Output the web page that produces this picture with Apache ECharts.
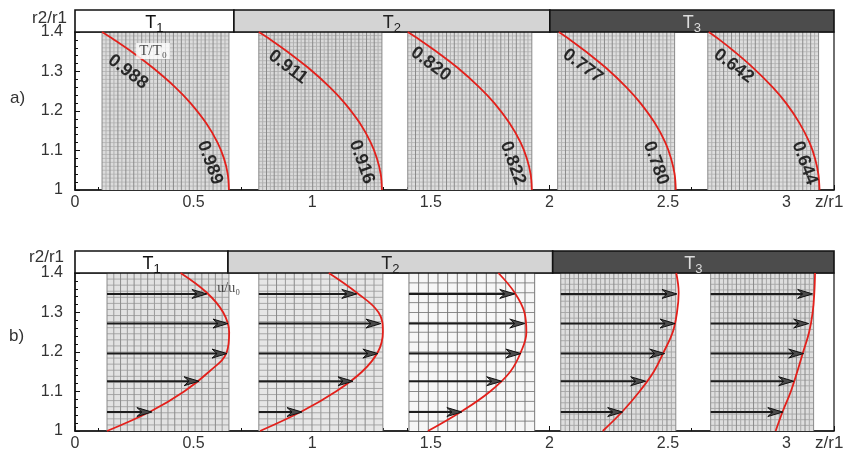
<!DOCTYPE html>
<html>
<head>
<meta charset="utf-8">
<script src="https://cdn.jsdelivr.net/npm/echarts@6/dist/echarts.min.js"></script>
<style>
  html, body { margin: 0; padding: 0; background: #fff; }
  #chart { width: 846px; height: 452px; }
</style>
</head>
<body>
<div id="chart"></div>
<script>
// ---- Data -------------------------------------------------------------
// Heated sections along the channel (header bands), edges in z/r1
const sectionNames = ['1', '2', '3'];
const sectionEdgesA = [0, 0.67, 2.002, 3.2];
const sectionEdgesB = [0, 0.645, 2.014, 3.2];

// Mesh windows [z start, z end] in z/r1
const windowsA = [[0.114, 0.649], [0.775, 1.294], [1.403, 1.926], [2.035, 2.528], [2.668, 3.135]];
const windowsB = [[0.135, 0.649], [0.775, 1.298], [1.408, 1.938], [2.048, 2.533], [2.680, 3.114]];

// a) Temperature contour: z/r1 of the line at each radial station
const rLevels   = [1.4, 1.38, 1.35, 1.31, 1.26, 1.22, 1.17, 1.12, 1.08, 1.04, 1.0];
const tempLine1 = [0.114, 0.166, 0.239, 0.327, 0.423, 0.487, 0.552, 0.601, 0.628, 0.644, 0.649];
const tempLine2 = [0.775, 0.826, 0.896, 0.982, 1.075, 1.137, 1.200, 1.247, 1.273, 1.289, 1.294];
const tempLine3 = [1.403, 1.454, 1.525, 1.612, 1.705, 1.768, 1.831, 1.879, 1.905, 1.921, 1.926];
const tempLine4 = [2.040, 2.088, 2.155, 2.237, 2.325, 2.384, 2.444, 2.489, 2.513, 2.528, 2.533];
const tempLine5 = [2.672, 2.718, 2.781, 2.858, 2.942, 2.998, 3.054, 3.097, 3.120, 3.134, 3.139];

// T/T0 values printed on each contour (outer wall, inner wall)
const tempTop    = ['0.988', '0.911', '0.820', '0.777', '0.642'];
const tempBottom = ['0.989', '0.916', '0.822', '0.780', '0.644'];

// b) Axial velocity profile: z/r1 of the profile at each radial station
const rProfile = [1.0, 1.05, 1.1, 1.15, 1.2, 1.25, 1.3, 1.35, 1.4];
const velLine1 = [0.135, 0.320, 0.460, 0.565, 0.640, 0.650, 0.625, 0.556, 0.445];
const velLine2 = [0.780, 0.957, 1.100, 1.210, 1.277, 1.298, 1.280, 1.188, 1.070];
const velLine3 = [1.488, 1.631, 1.750, 1.835, 1.880, 1.903, 1.895, 1.854, 1.785];
const velLine4 = [2.225, 2.309, 2.380, 2.440, 2.482, 2.520, 2.538, 2.545, 2.535];
const velLine5 = [2.954, 2.984, 3.018, 3.045, 3.070, 3.095, 3.110, 3.117, 3.120];

// Velocity vectors: radial stations and arrow tip positions (z/r1)
const rArrows   = [1.048, 1.126, 1.196, 1.272, 1.347];
const arrowTip1 = [0.324, 0.523, 0.641, 0.645, 0.556];
const arrowTip2 = [0.957, 1.172, 1.277, 1.290, 1.188];
const arrowTip3 = [1.631, 1.799, 1.880, 1.896, 1.854];
const arrowTip4 = [2.309, 2.406, 2.486, 2.530, 2.538];
const arrowTip5 = [2.984, 3.030, 3.072, 3.093, 3.110];

// ---- Presentation ------------------------------------------------------
const FONT = "'Liberation Sans', Arial, sans-serif";
const SERIF = "'Liberation Serif', 'Times New Roman', serif";
const RED = '#e3201b';

const tempLines = [tempLine1, tempLine2, tempLine3, tempLine4, tempLine5];
const velLines = [velLine1, velLine2, velLine3, velLine4, velLine5];
const arrowTips = [arrowTip1, arrowTip2, arrowTip3, arrowTip4, arrowTip5];

// mesh density / shading of each window
const meshA = [
  { nz: 32, nr: 40, bg: '#dcdcdc', v: '#8a8a8a', v2: '#b0b0b0', h: '#bababa' },
  { nz: 32, nr: 44, bg: '#dadada', v: '#8a8a8a', v2: '#b0b0b0', h: '#b6b6b6' },
  { nz: 32, nr: 40, bg: '#dedede', v: '#8a8a8a', v2: '#b0b0b0', h: '#bababa' },
  { nz: 30, nr: 40, bg: '#dedede', v: '#8a8a8a', v2: '#b0b0b0', h: '#bababa' },
  { nz: 28, nr: 40, bg: '#dedede', v: '#8a8a8a', v2: '#b0b0b0', h: '#bababa' }
];
const meshB = [
  { nz: 18, nr: 26, bg: '#e2e2e2', v: '#8a8a8a', v2: '#9a9a9a', h: '#a8a8a8' },
  { nz: 14, nr: 26, bg: '#e6e6e6', v: '#8a8a8a', v2: '#9a9a9a', h: '#a8a8a8' },
  { nz: 13, nr: 16, bg: '#f6f6f6', v: '#7a7a7a', v2: '#7a7a7a', h: '#8a8a8a' },
  { nz: 26, nr: 28, bg: '#dedede', v: '#8a8a8a', v2: '#a8a8a8', h: '#ababab' },
  { nz: 24, nr: 28, bg: '#dedede', v: '#8a8a8a', v2: '#a8a8a8', h: '#ababab' }
];

// where the contour values are written (z/r1, r2/r1)
const spotsTop    = [[0.223, 1.299], [0.898, 1.311], [1.500, 1.319], [2.141, 1.314], [2.777, 1.314]];
const spotsBottom = [[0.569, 1.069], [1.209, 1.071], [1.846, 1.068], [2.449, 1.068], [3.076, 1.068]];

function meshRenderer(styles) {
  return function (params, api) {
    const st = styles[params.dataIndex];
    const tl = api.coord([api.value(0), 1.4]);
    const br = api.coord([api.value(1), 1.0]);
    const x0 = tl[0], y0 = tl[1], x1 = br[0], y1 = br[1];
    const children = [{
      type: 'rect', shape: { x: x0, y: y0, width: x1 - x0, height: y1 - y0 },
      style: { fill: st.bg }
    }];
    for (let j = 1; j < st.nr; j++) {
      const y = y0 + (y1 - y0) * j / st.nr;
      children.push({ type: 'line', shape: { x1: x0, y1: y, x2: x1, y2: y }, style: { stroke: st.h, lineWidth: 1 } });
    }
    for (let i = 0; i <= st.nz; i++) {
      const x = x0 + (x1 - x0) * i / st.nz;
      children.push({ type: 'line', shape: { x1: x, y1: y0, x2: x, y2: y1 }, style: { stroke: i % 2 ? st.v2 : st.v, lineWidth: 1 } });
    }
    return { type: 'group', children: children, silent: true };
  };
}

const headerFill = ['#ffffff', '#d4d4d4', '#4c4c4c'];
const headerInk = ['#111111', '#222222', '#dddddd'];
function headerRenderer(params, api) {
  const k = params.dataIndex;
  const a = api.coord([api.value(0), 1]);
  const b = api.coord([api.value(1), 0]);
  return {
    type: 'group',
    children: [
      { type: 'rect', shape: { x: a[0], y: a[1], width: b[0] - a[0], height: b[1] - a[1] },
        style: { fill: headerFill[k], stroke: '#111', lineWidth: 1.6 } },
      { type: 'text', style: {
          x: (a[0] + b[0]) / 2, y: (a[1] + b[1]) / 2 + 2,
          text: '{t|T}{s|' + sectionNames[k] + '}',
          align: 'center', verticalAlign: 'middle',
          rich: {
            t: { fontFamily: FONT, fontSize: 18, fill: headerInk[k] },
            s: { fontFamily: FONT, fontSize: 13, fill: headerInk[k], padding: [10, 0, 0, 0] }
          }
      } }
    ]
  };
}

function arrowRenderer(params, api) {
  const s = api.coord([api.value(0), api.value(2)]);
  const t = api.coord([api.value(1), api.value(2)]);
  const L = 15, H = 4.5;
  return {
    type: 'group',
    children: [
      { type: 'line', shape: { x1: s[0], y1: s[1], x2: t[0] - 3, y2: t[1] },
        style: { stroke: '#1c1c1c', lineWidth: 2 } },
      { type: 'polygon', shape: { points: [[t[0], t[1]], [t[0] - L, t[1] - H], [t[0] - L + 5, t[1]], [t[0] - L, t[1] + H]] },
        style: { fill: '#4a4a4a', stroke: '#111', lineWidth: 1 } }
    ]
  };
}

function headerData(edges) {
  return sectionNames.map((n, i) => [edges[i], edges[i + 1]]);
}

const series = [];
// header bands
series.push({ type: 'custom', xAxisIndex: 0, yAxisIndex: 0, renderItem: headerRenderer, data: headerData(sectionEdgesA), silent: true });
series.push({ type: 'custom', xAxisIndex: 2, yAxisIndex: 2, renderItem: headerRenderer, data: headerData(sectionEdgesB), silent: true });
// meshes
series.push({ type: 'custom', xAxisIndex: 1, yAxisIndex: 1, renderItem: meshRenderer(meshA), data: windowsA, z: 1, silent: true });
series.push({ type: 'custom', xAxisIndex: 3, yAxisIndex: 3, renderItem: meshRenderer(meshB), data: windowsB, z: 1, silent: true });
// temperature contours
tempLines.forEach(function (line) {
  series.push({
    type: 'line', xAxisIndex: 1, yAxisIndex: 1, z: 3,
    data: line.map((z, i) => [z, rLevels[i]]),
    smooth: 0.35, symbol: 'none', lineStyle: { color: RED, width: 1.8 }, silent: true
  });
});
// contour value labels
function labelSeries(texts, spots, rot) {
  return {
    type: 'scatter', xAxisIndex: 1, yAxisIndex: 1, z: 5, silent: true,
    symbolSize: 1, itemStyle: { color: 'rgba(0,0,0,0)' },
    data: spots.map((p, i) => ({ value: p, name: texts[i] })),
    label: {
      show: true, position: 'inside', rotate: rot,
      formatter: p => p.name,
      fontFamily: FONT, fontSize: 18, fontWeight: 'bold', color: '#000'
    }
  };
}
series.push(labelSeries(tempTop, spotsTop, -37));
series.push(labelSeries(tempBottom, spotsBottom, -70));
// quantity tags
series.push({
  type: 'scatter', xAxisIndex: 1, yAxisIndex: 1, z: 6, silent: true,
  symbolSize: 1, itemStyle: { color: 'rgba(0,0,0,0)' },
  data: [[0.329, 1.352]],
  label: { show: true, position: 'inside', formatter: 'T/T₀', fontFamily: SERIF, fontSize: 15,
           color: '#222', backgroundColor: '#fff', padding: [1, 3, 0, 3] }
});
series.push({
  type: 'scatter', xAxisIndex: 3, yAxisIndex: 3, z: 6, silent: true,
  symbolSize: 1, itemStyle: { color: 'rgba(0,0,0,0)' },
  data: [[0.648, 1.36]],
  label: { show: true, position: 'inside', formatter: 'u/u₀', fontFamily: SERIF, fontSize: 14, color: '#222' }
});
// velocity profiles
velLines.forEach(function (line) {
  series.push({
    type: 'line', xAxisIndex: 3, yAxisIndex: 3, z: 3,
    data: line.map((z, i) => [z, rProfile[i]]),
    smooth: 0.4, symbol: 'none', lineStyle: { color: RED, width: 1.8 }, silent: true
  });
});
// velocity vectors
arrowTips.forEach(function (tips, k) {
  series.push({
    type: 'custom', xAxisIndex: 3, yAxisIndex: 3, z: 4, silent: true,
    renderItem: arrowRenderer,
    data: rArrows.map((r, i) => [windowsB[k][0], tips[i], r])
  });
});

function plotX(index) {
  return {
    type: 'value', gridIndex: index, min: 0, max: 3.2, interval: 0.5,
    axisLine: { show: true, lineStyle: { color: '#111', width: 1.5 } },
    axisTick: { show: true, inside: true, length: 5, lineStyle: { color: '#111' } },
    minorTick: { show: true, splitNumber: 5, length: 3, lineStyle: { color: '#111' } },
    splitLine: { show: false },
    axisLabel: { margin: 5, fontFamily: FONT, fontSize: 16, color: '#333',
                 formatter: v => (v > 3.05 ? '' : String(+v.toFixed(1))) }
  };
}
function plotY(index) {
  return {
    type: 'value', gridIndex: index, min: 1, max: 1.4, interval: 0.1,
    axisLine: { show: true, lineStyle: { color: '#111', width: 1.5 } },
    axisTick: { show: true, inside: true, length: 5, lineStyle: { color: '#111' } },
    minorTick: { show: true, splitNumber: 5, length: 3, lineStyle: { color: '#111' } },
    splitLine: { show: false },
    axisLabel: { margin: 12, fontFamily: FONT, fontSize: 16, color: '#333',
                 formatter: v => String(+v.toFixed(1)) }
  };
}
function bandX(index) {
  return { type: 'value', gridIndex: index, min: 0, max: 3.2, show: false };
}
function bandY(index) {
  return { type: 'value', gridIndex: index, min: 0, max: 1, show: false };
}

function sideText(text, x, y, align) {
  return { type: 'text', x: x, y: y,
    style: { text: text, fontFamily: FONT, fontSize: 17, fill: '#333', align: align, verticalAlign: 'middle' } };
}

const chart = echarts.init(document.getElementById('chart'));
chart.setOption({
  backgroundColor: '#fff',
  animation: false,
  grid: [
    { left: 75, right: 12, top: 10, height: 22 },
    { left: 75, right: 12, top: 32, height: 158, show: true, borderColor: '#111', borderWidth: 1.2 },
    { left: 75, right: 12, top: 251, height: 22 },
    { left: 75, right: 12, top: 273, height: 159, show: true, borderColor: '#111', borderWidth: 1.2 }
  ],
  xAxis: [bandX(0), plotX(1), bandX(2), plotX(3)],
  yAxis: [bandY(0), plotY(1), bandY(2), plotY(3)],
  graphic: [
    sideText('r2/r1', 67, 18, 'right'),
    sideText('a)', 10, 98, 'left'),
    sideText('z/r1', 815, 202, 'left'),
    sideText('r2/r1', 64, 257, 'right'),
    sideText('b)', 9, 336, 'left'),
    sideText('z/r1', 815, 443, 'left')
  ],
  series: series
});
</script>
</body>
</html>
